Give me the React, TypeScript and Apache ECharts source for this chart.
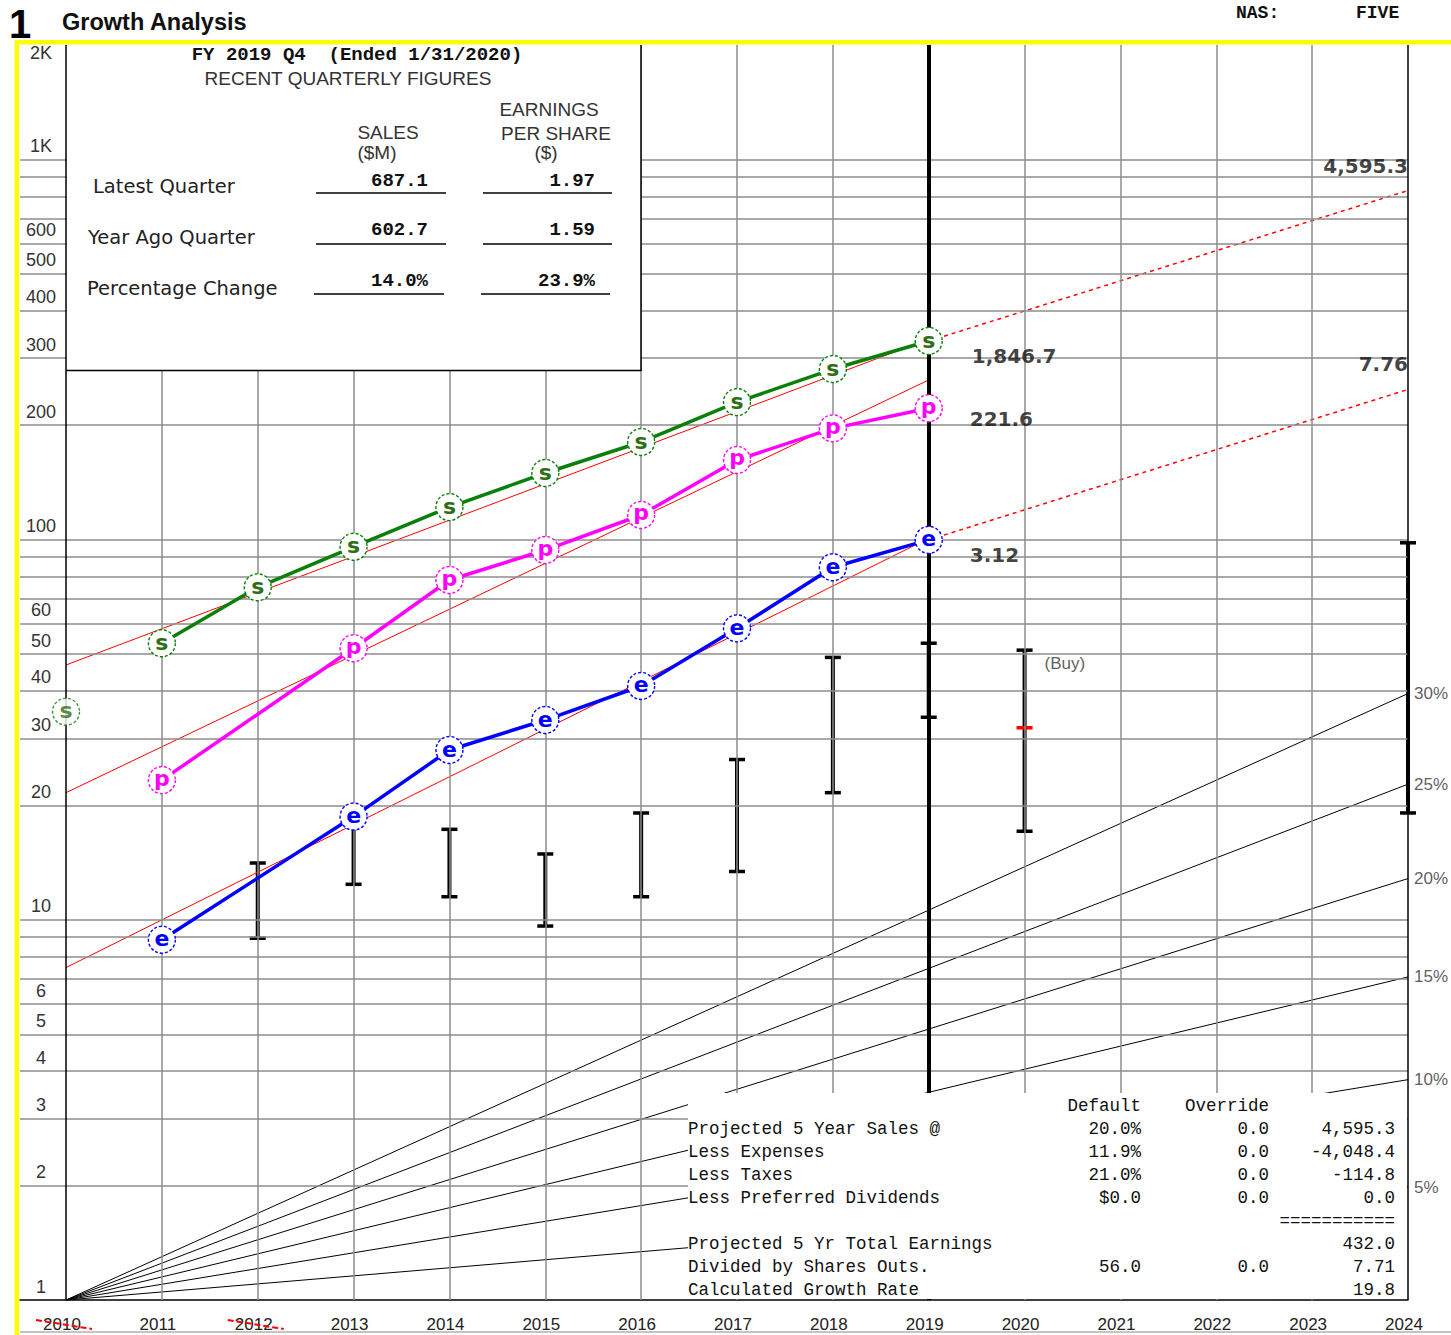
import React, { useEffect, useRef } from "react";
import * as echarts from "echarts";

// Fiscal years along the x axis
const years = [2010, 2011, 2012, 2013, 2014, 2015, 2016, 2017, 2018, 2019, 2020, 2021, 2022, 2023, 2024];
const excludedYears = [2010, 2012];

// Log-scale gridlines and the labelled subset of them
const gridValues = [2, 3, 4, 5, 6, 7, 8, 9, 10, 20, 30, 40, 50, 60, 70, 80, 90, 100, 200, 300, 400, 500, 600, 700, 800, 900, 1000];
const yTickValues = [1, 2, 3, 4, 5, 6, 10, 20, 30, 40, 50, 60, 100, 200, 300, 400, 500, 600, 1000, 2000];
const yTickLabels = ["1", "2", "3", "4", "5", "6", "10", "20", "30", "40", "50", "60", "100", "200", "300", "400", "500", "600", "1K", "2K"];

// Annual sales ($M)
const salesYears = [2010, 2011, 2012, 2013, 2014, 2015, 2016, 2017, 2018, 2019];
const salesM = [195.6, 296.0, 415.5, 531.0, 675.5, 830.3, 1001.7, 1275.7, 1558.5, 1846.7];
// Pre-tax profit ($M); 2012 not reported
const profitYears = [2011, 2012, 2013, 2014, 2015, 2016, 2017, 2018, 2019];
const pretaxM: (number | null)[] = [23.3, null, 51.8, 78.3, 93.9, 116.1, 162.0, 196.2, 221.6];
// Earnings per share ($); 2012 not reported
const epsYears = [2011, 2012, 2013, 2014, 2015, 2016, 2017, 2018, 2019];
const eps: (number | null)[] = [0.277, null, 0.584, 0.874, 1.048, 1.288, 1.826, 2.643, 3.12];

// Sales and EPS share the log axis with pre-tax profit through these plot factors
const SALES_PLOT_SCALE = 0.1803;
const EPS_PLOT_SCALE = 32;

// Historical trend lines (start / end values)
const trendYears = [2010, 2019];
const salesTrend = [259.6, 1869];
const pretaxTrend = [21.6, 263];
const epsTrend = [0.234, 3.15];

// Five-year projections
const projectionYears = [2019, 2024];
const salesProjection = [1846.7, 4595.3];
const epsProjection = [3.12, 7.76];

// Annual price high / low bars
const priceYears = [2012, 2013, 2014, 2015, 2016, 2017, 2018, 2019, 2020, 2024];
const priceHigh = [14.1, 18.5, 17.3, 14.9, 19.1, 26.4, 49.0, 53.4, 51.2, 98.1];
const priceLow = [8.94, 12.4, 11.5, 9.63, 11.5, 13.4, 21.6, 34.1, 17.1, 19.1];
const currentPriceYear = 2020;
const currentPrice = 32.0;

// Reference growth-rate fan (% per year)
const growthRates = [5, 10, 15, 20, 25, 30];

// Recent quarterly figures
const quarterRows = ["Latest Quarter", "Year Ago Quarter", "Percentage Change"];
const quarterSales = ["687.1", "602.7", "14.0%"];
const quarterEps = ["1.97", "1.59", "23.9%"];

// Projection worksheet
const projRows = ["Projected 5 Year Sales @", "Less Expenses", "Less Taxes", "Less Preferred Dividends", "", "Projected 5 Yr Total Earnings", "Divided by Shares Outs.", "Calculated Growth Rate"];
const projDefault = ["20.0%", "11.9%", "21.0%", "$0.0", "", "", "56.0", ""];
const projOverride = ["0.0", "0.0", "0.0", "0.0", "", "", "0.0", ""];
const projResult = ["4,595.3", "-4,048.4", "-114.8", "0.0", "===========", "432.0", "7.71", "19.8"];

const F_SANS = '"Liberation Sans", Arial, sans-serif';
const F_MONO = '"Liberation Mono", "DejaVu Sans Mono", monospace';
const F_WIDE = '"DejaVu Sans", Verdana, sans-serif';

const GREEN = "#0a800a";
const MAGENTA = "#ff00ff";
const BLUE = "#0000ff";
const RED = "#ff0000";

function txt(x: number, y: number, text: string, o: { size: number; family?: string; weight?: string; fill?: string; align?: string }) {
  const align = o.align || "left";
  return {
    type: "text",
    x,
    y,
    z: 100,
    silent: true,
    style: {
      text,
      fill: o.fill || "#111",
      fontSize: o.size,
      fontFamily: o.family || F_SANS,
      fontWeight: o.weight || "normal",
      textAlign: align,
      textVerticalAlign: "middle",
      align,
      verticalAlign: "middle",
    },
  };
}

function hline(x1: number, x2: number, y: number, stroke = "#000", w = 1.5) {
  return { type: "line", z: 100, silent: true, shape: { x1, y1: y, x2, y2: y }, style: { stroke, lineWidth: w } };
}

function markerSeries(name: string, letter: string, color: string, letterColor: string, data: any[], lineWidth: number) {
  return {
    name,
    type: "line",
    z: 5,
    data,
    connectNulls: true,
    symbol: "circle",
    symbolSize: 27,
    lineStyle: { color, width: lineWidth },
    itemStyle: { color: "#fff", borderColor: color, borderWidth: 1.4, borderType: [3, 2] },
    label: {
      show: true,
      position: "inside",
      formatter: letter,
      color: letterColor,
      fontSize: 22,
      fontWeight: "bold",
      fontFamily: F_WIDE,
      offset: letter === "p" ? [0, -2] : [0, -1],
    },
    emphasis: { disabled: true },
  };
}

function buildOption(): any {
  const S = SALES_PLOT_SCALE;
  const E = EPS_PLOT_SCALE;

  const verticals: any[] = years.map((yr) => {
    if (yr === 2019) return { xAxis: yr, lineStyle: { color: "#000", width: 4, type: "solid" } };
    if (yr === 2010 || yr === 2024) return { xAxis: yr, lineStyle: { color: "#000", width: 1.5, type: "solid" } };
    return { xAxis: yr };
  });

  const series: any[] = [
    {
      name: "grid",
      type: "line",
      z: 1,
      data: [[2010, 1]],
      symbol: "none",
      lineStyle: { width: 0 },
      silent: true,
      markLine: {
        silent: true,
        symbol: ["none", "none"],
        label: { show: false },
        lineStyle: { color: "#8c8c8c", width: 1.5, type: "solid" },
        data: [...gridValues.map((v) => ({ yAxis: v })), ...verticals],
      },
    },
    ...growthRates.map((r) => ({
      name: `growth${r}`,
      type: "line",
      z: 2,
      symbol: "none",
      silent: true,
      lineStyle: { color: "#000", width: 1 },
      data: [
        [2010, 1],
        [2024, Math.pow(1 + r / 100, 2024 - 2010)],
      ],
    })),
    {
      name: "growthLabels",
      type: "scatter",
      z: 6,
      symbolSize: 0,
      silent: true,
      itemStyle: { color: "rgba(0,0,0,0)" },
      label: { show: true, position: "right", distance: 6, color: "#333", fontSize: 17, fontFamily: F_SANS, formatter: (p: any) => `${p.data.rate}%` },
      data: growthRates.map((r) => ({ value: [2024, Math.pow(1 + r / 100, 2024 - 2010)], rate: r })),
    },
    ...[
      { vals: salesTrend.map((v) => v * S) },
      { vals: pretaxTrend },
      { vals: epsTrend.map((v) => v * E) },
    ].map((t, i) => ({
      name: `trend${i}`,
      type: "line",
      z: 3,
      symbol: "none",
      silent: true,
      lineStyle: { color: RED, width: 1 },
      data: trendYears.map((y, k) => [y, t.vals[k]]),
    })),
    ...[salesProjection.map((v) => v * S), epsProjection.map((v) => v * E)].map((vals, i) => ({
      name: `projection${i}`,
      type: "line",
      z: 3,
      symbol: "none",
      silent: true,
      lineStyle: { color: RED, width: 1.5, type: [4, 4] },
      data: projectionYears.map((y, k) => [y, vals[k]]),
    })),
    {
      name: "price",
      type: "custom",
      z: 3,
      silent: true,
      encode: { x: 0, y: [1, 2] },
      data: priceYears.map((y, i) => [y, priceHigh[i], priceLow[i], y === currentPriceYear ? currentPrice : 0]),
      renderItem: (_params: any, api: any) => {
        const x = api.value(0);
        const hi = api.coord([x, api.value(1)]);
        const lo = api.coord([x, api.value(2)]);
        const mark = api.value(3);
        const half = 8;
        const stemW = 4;
        const capH = 3.5;
        const ink = { fill: "#000", stroke: "none" };
        const children: any[] = [
          { type: "rect", shape: { x: hi[0] - stemW / 2, y: hi[1], width: stemW, height: lo[1] - hi[1] }, style: ink },
          { type: "rect", shape: { x: hi[0] - half, y: hi[1] - capH / 2, width: half * 2, height: capH }, style: ink },
          { type: "rect", shape: { x: lo[0] - half, y: lo[1] - capH / 2, width: half * 2, height: capH }, style: ink },
        ];
        if (mark > 0) {
          const m = api.coord([x, mark]);
          children.push({ type: "rect", shape: { x: m[0] - half, y: m[1] - capH / 2, width: half * 2, height: capH }, style: { fill: RED, stroke: "none" } });
        }
        return { type: "group", children };
      },
    },
    markerSeries(
      "sales",
      "s",
      GREEN,
      "#2e6e14",
      salesYears.filter((y) => y >= 2011).map((y) => [y, salesM[salesYears.indexOf(y)] * S]),
      3.5
    ),
    {
      ...markerSeries("sales2010", "s", GREEN, "#2e6e14", salesYears.filter((y) => y < 2011).map((y) => [y, salesM[salesYears.indexOf(y)] * S]), 3.5),
      type: "scatter",
    },
    markerSeries("pretax", "p", MAGENTA, MAGENTA, profitYears.map((y, i) => [y, pretaxM[i] == null ? "-" : pretaxM[i]]), 3.5),
    markerSeries("eps", "e", BLUE, BLUE, epsYears.map((y, i) => [y, eps[i] == null ? "-" : (eps[i] as number) * E]), 3.5),
    {
      name: "valueLabels",
      type: "scatter",
      z: 6,
      symbolSize: 0,
      silent: true,
      itemStyle: { color: "rgba(0,0,0,0)" },
      label: { show: true, color: "#111", fontSize: 20, fontWeight: "bold", fontFamily: F_WIDE },
      data: [
        {
          value: [2019, salesM[salesM.length - 1] * S],
          label: { position: "right", distance: 0, offset: [43, 15], formatter: salesM[salesM.length - 1].toLocaleString("en-US", { minimumFractionDigits: 1 }) },
        },
        {
          value: [2019, pretaxM[pretaxM.length - 1]],
          label: { position: "right", distance: 0, offset: [41, 11], formatter: (pretaxM[pretaxM.length - 1] as number).toFixed(1) },
        },
        {
          value: [2019, (eps[eps.length - 1] as number) * E],
          label: { position: "right", distance: 0, offset: [41, 15], formatter: (eps[eps.length - 1] as number).toFixed(2) },
        },
        {
          value: [2024, salesProjection[1] * S],
          label: { position: "left", distance: 0, offset: [0, -25], formatter: salesProjection[1].toLocaleString("en-US", { minimumFractionDigits: 1 }) },
        },
        {
          value: [2024, epsProjection[1] * E],
          label: { position: "left", distance: 0, offset: [0, -25], formatter: epsProjection[1].toFixed(2) },
        },
        {
          value: [currentPriceYear, priceHigh[priceYears.indexOf(currentPriceYear)]],
          label: { position: "right", distance: 0, offset: [20, 13], formatter: "(Buy)", fontWeight: "normal", fontSize: 17, color: "#333", fontFamily: F_SANS },
        },
      ],
    },
  ];

  return {
    animation: false,
    backgroundColor: "#fff",
    textStyle: { fontFamily: F_SANS },
    grid: { left: 20, right: 43, top: 45, bottom: 35, containLabel: false },
    xAxis: {
      type: "value",
      min: 2009.52,
      max: 2024,
      axisLine: { show: true, onZero: false, lineStyle: { color: "#000", width: 1.5 } },
      axisTick: { show: false },
      splitLine: { show: false },
      axisLabel: {
        customValues: years,
        formatter: (v: number) => String(v),
        color: "#222",
        fontSize: 17,
        fontFamily: F_SANS,
        margin: 16,
        padding: [0, 8, 0, 0],
      },
    },
    yAxis: {
      type: "log",
      logBase: 10,
      min: 1,
      max: 2000,
      axisLine: { show: false },
      axisTick: { show: false },
      axisLabel: { show: false },
      splitLine: { show: false },
    },
    series,
  };
}

function staticGraphics(): any[] {
  const g: any[] = [];
  // Page frame and header
  g.push({ type: "rect", z: 99, silent: true, shape: { x: 15, y: 40, width: 1436, height: 4.5 }, style: { fill: "#ffff00" } });
  g.push({ type: "rect", z: 99, silent: true, shape: { x: 14.5, y: 40, width: 4.5, height: 1295 }, style: { fill: "#ffff00" } });
  g.push(hline(20, 1451, 1332, "#c4c4c4", 2));
  g.push(txt(9, 24, "1", { size: 40, weight: "bold", fill: "#000" }));
  g.push(txt(62, 22, "Growth Analysis", { size: 23.5, weight: "bold", fill: "#111" }));
  g.push(txt(1236, 13, "NAS:", { size: 18, family: F_MONO, weight: "bold" }));
  g.push(txt(1356, 13, "FIVE", { size: 18, family: F_MONO, weight: "bold" }));

  // Recent quarterly figures panel
  g.push({ type: "rect", z: 99, silent: true, shape: { x: 67, y: 45, width: 574, height: 325 }, style: { fill: "#fff" } });
  g.push({ type: "line", z: 100, silent: true, shape: { x1: 641, y1: 45, x2: 641, y2: 370.5 }, style: { stroke: "#000", lineWidth: 1.5 } });
  g.push(hline(66, 641.7, 370.5, "#000", 1.5));
  g.push(txt(357, 55, "FY 2019 Q4  (Ended 1/31/2020)", { size: 19, family: F_MONO, weight: "bold", align: "center" }));
  g.push(txt(348, 78, "RECENT QUARTERLY FIGURES", { size: 19, fill: "#333", align: "center" }));
  g.push(txt(549, 109, "EARNINGS", { size: 19, fill: "#333", align: "center" }));
  g.push(txt(556, 133, "PER SHARE", { size: 19, fill: "#333", align: "center" }));
  g.push(txt(546, 152, "($)", { size: 19, fill: "#333", align: "center" }));
  g.push(txt(388, 132, "SALES", { size: 19, fill: "#333", align: "center" }));
  g.push(txt(377, 152, "($M)", { size: 19, fill: "#333", align: "center" }));
  const rowY = [186, 237, 288];
  const valY = [181, 230, 281];
  const ulY = [193, 244, 294];
  const rowX = [93, 88, 87];
  quarterRows.forEach((r, i) => {
    g.push(txt(rowX[i], rowY[i], r, { size: 19.5, family: F_WIDE, fill: "#222" }));
    g.push(txt(428, valY[i], quarterSales[i], { size: 19, family: F_MONO, weight: "bold", align: "right" }));
    g.push(txt(595, valY[i], quarterEps[i], { size: 19, family: F_MONO, weight: "bold", align: "right" }));
    const shift = i === 2 ? -2 : 0;
    g.push(hline(316 + shift, 446 + shift, ulY[i]));
    g.push(hline(483 + shift, 612 + shift, ulY[i]));
  });

  // Projection worksheet panel
  g.push({ type: "rect", z: 99, silent: true, shape: { x: 688, y: 1093, width: 719, height: 206 }, style: { fill: "#fff" } });
  g.push(txt(1141, 1106, "Default", { size: 17.5, family: F_MONO, align: "right" }));
  g.push(txt(1269, 1106, "Override", { size: 17.5, family: F_MONO, align: "right" }));
  projRows.forEach((r, i) => {
    const y = 1129 + i * 23;
    if (r) g.push(txt(688, y, r, { size: 17.5, family: F_MONO }));
    if (projDefault[i]) g.push(txt(1141, y, projDefault[i], { size: 17.5, family: F_MONO, align: "right" }));
    if (projOverride[i]) g.push(txt(1269, y, projOverride[i], { size: 17.5, family: F_MONO, align: "right" }));
    if (projResult[i]) g.push(txt(1395, y, projResult[i], { size: 17.5, family: F_MONO, align: "right" }));
  });
  return g;
}

export default function App() {
  const ref = useRef<HTMLDivElement>(null);

  useEffect(() => {
    if (!ref.current) return;
    const chart = echarts.init(ref.current, null, { renderer: "svg" });
    chart.setOption(buildOption());

    const xPx = (v: number) => chart.convertToPixel({ xAxisIndex: 0 }, v) as unknown as number;
    const yPx = (v: number) => chart.convertToPixel({ yAxisIndex: 0 }, v) as unknown as number;

    const axisTexts: any[] = yTickValues.map((v, i) => {
      const py = yPx(v);
      const y = py - 13.5 < 45 ? py + 8 : py - 13.5;
      return txt(41, y, yTickLabels[i], { size: 18, fill: "#333", align: "center" });
    });
    const strikes: any[] = excludedYears.map((yr) => {
      const px = xPx(yr);
      return {
        type: "line",
        z: 100,
        silent: true,
        shape: { x1: px - 30, y1: 1320, x2: px + 26, y2: 1329 },
        style: { stroke: RED, lineWidth: 2, lineDash: [6, 3] },
      };
    });

    chart.setOption({ graphic: { elements: [...staticGraphics(), ...axisTexts, ...strikes] } });

    return () => chart.dispose();
  }, []);

  return (
    <div
      ref={ref}
      style={{ position: "absolute", left: 0, top: 0, width: 1451, height: 1335, background: "#fff" }}
    />
  );
}
